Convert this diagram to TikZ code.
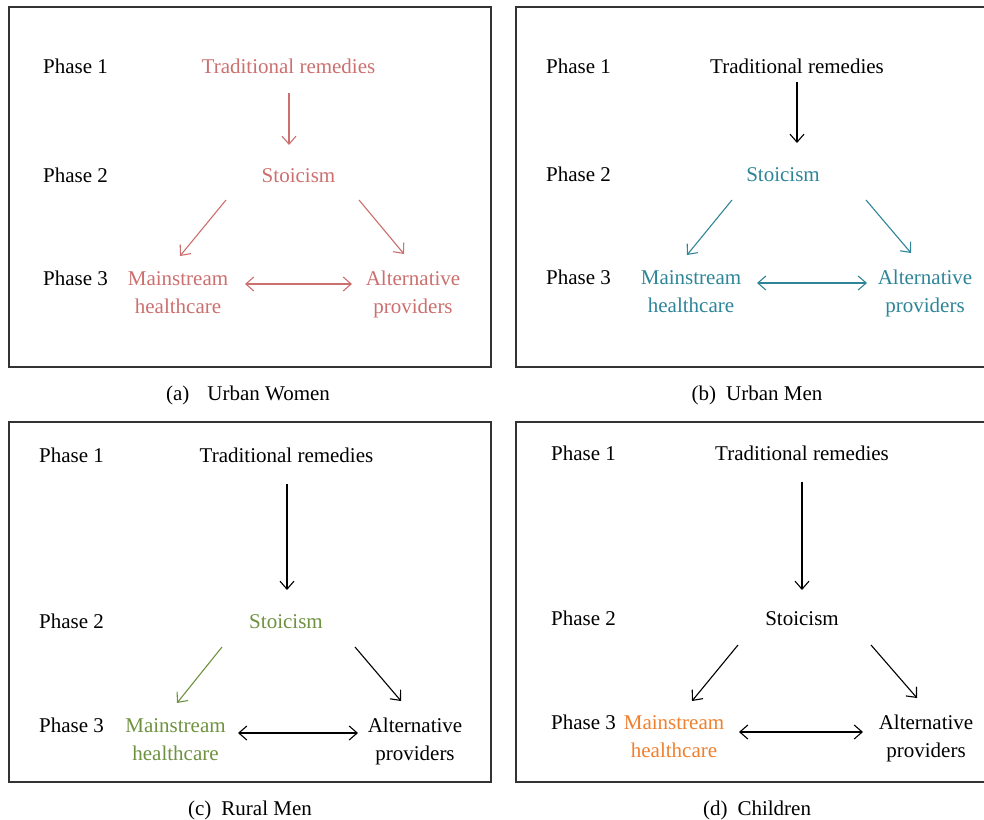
\documentclass[tikz,border=0pt]{standalone}
\usepackage{fontspec}
\setmainfont{Liberation Serif}
\usetikzlibrary{arrows.meta}
\definecolor{cRose}{HTML}{CC6F6F}
\definecolor{cTeal}{HTML}{2E8598}
\definecolor{cOlive}{HTML}{6E9240}
\definecolor{cOrange}{HTML}{F07F2E}
\definecolor{cFrame}{HTML}{333333}
\newcommand{\twoline}[2]{\begin{tabular}[t]{@{}c@{}}#1\\#2\end{tabular}}
\tikzset{
  lbl/.style={anchor=base west, inner sep=0pt},
  txt/.style={anchor=base, inner sep=0pt},
  frame/.style={draw=cFrame, line width=1.3pt},
  arr/.style={-{Straight Barb[length=8pt,width=14pt]}, line width=1.1pt},
  darr/.style={{Straight Barb[length=8pt,width=14pt]}-{Straight Barb[length=8pt,width=14pt]}, line width=1.1pt},
}
\begin{document}
\begin{tikzpicture}[x=1pt,y=-1pt,font=\fontsize{21}{28}\selectfont]
\useasboundingbox (0,0) rectangle (984,819);
% frames
\draw[frame] (9,7) rectangle (491,367);
\draw[frame] (984,7) -- (516,7) -- (516,367) -- (984,367);
\draw[frame] (9,422) rectangle (491,782);
\draw[frame] (984,422) -- (516,422) -- (516,782) -- (984,782);

% ---------- panel a ----------
\node[lbl] (pa1) at (43,73) {Phase 1};
\node[lbl] (pa2) at (43,182) {Phase 2};
\node[lbl] (pa3) at (43,285) {Phase 3};
\node[txt,text=cRose] (ta) at (288.5,73) {Traditional remedies};
\node[txt,text=cRose] (sa) at (298.5,182) {Stoicism};
\node[txt,text=cRose] (ma) at (178,285) {\twoline{Mainstream}{healthcare}};
\node[txt,text=cRose] (aa) at (413,285) {\twoline{Alternative}{providers}};
\coordinate (a1) at (289,93);  \coordinate (a2) at (289,145);
\coordinate (a3) at (226,200); \coordinate (a4) at (180,256);
\coordinate (a5) at (359,200); \coordinate (a6) at (404,254);
\coordinate (a7) at (245,284); \coordinate (a8) at (352,284);
\draw[arr,cRose] (a1) -- (a2);
\draw[arr,cRose] (a3) -- (a4);
\draw[arr,cRose] (a5) -- (a6);
\draw[darr,cRose] (a7) -- (a8);
\node[txt] (capa) at (248,400) {(a)\hspace{18pt}Urban Women};

% ---------- panel b ----------
\node[lbl] (pb1) at (546,73) {Phase 1};
\node[lbl] (pb2) at (546,181) {Phase 2};
\node[lbl] (pb3) at (546,284) {Phase 3};
\node[txt] (tb) at (797,73) {Traditional remedies};
\node[txt,text=cTeal] (sb) at (783,181) {Stoicism};
\node[txt,text=cTeal] (mb) at (691,284) {\twoline{Mainstream}{healthcare}};
\node[txt,text=cTeal] (ab) at (925,284) {\twoline{Alternative}{providers}};
\coordinate (b1) at (797,82);  \coordinate (b2) at (797,143);
\coordinate (b3) at (732,200); \coordinate (b4) at (687,255);
\coordinate (b5) at (866,200); \coordinate (b6) at (911,253);
\coordinate (b7) at (757,283); \coordinate (b8) at (867,283);
\draw[arr] (b1) -- (b2);
\draw[arr,cTeal] (b3) -- (b4);
\draw[arr,cTeal] (b5) -- (b6);
\draw[darr,cTeal] (b7) -- (b8);
\node[txt] (capb) at (757,400) {(b)\hspace{10pt}Urban Men};

% ---------- panel c ----------
\node[lbl] (pc1) at (39,462) {Phase 1};
\node[lbl] (pc2) at (39,628) {Phase 2};
\node[lbl] (pc3) at (39,732) {Phase 3};
\node[txt] (tc) at (286.5,462) {Traditional remedies};
\node[txt,text=cOlive] (sc) at (286,628) {Stoicism};
\node[txt,text=cOlive] (mc) at (175.5,732) {\twoline{Mainstream}{healthcare}};
\node[txt] (ac) at (415,732) {\twoline{Alternative}{providers}};
\coordinate (c1) at (287,484); \coordinate (c2) at (287,590);
\coordinate (c3) at (222,647); \coordinate (c4) at (177,703);
\coordinate (c5) at (355,647); \coordinate (c6) at (401,701);
\coordinate (c7) at (238,733); \coordinate (c8) at (358,733);
\draw[arr] (c1) -- (c2);
\draw[arr,cOlive] (c3) -- (c4);
\draw[arr] (c5) -- (c6);
\draw[darr] (c7) -- (c8);
\node[txt] (capc) at (250,815) {(c)\hspace{10pt}Rural Men};

% ---------- panel d ----------
\node[lbl] (pd1) at (551,460) {Phase 1};
\node[lbl] (pd2) at (551,625) {Phase 2};
\node[lbl] (pd3) at (551,729) {Phase 3};
\node[txt] (td) at (802,460) {Traditional remedies};
\node[txt] (sd) at (802,625) {Stoicism};
\node[txt,text=cOrange] (md) at (674,729) {\twoline{Mainstream}{healthcare}};
\node[txt] (ad) at (926,729) {\twoline{Alternative}{providers}};
\coordinate (d1) at (802,482); \coordinate (d2) at (802,590);
\coordinate (d3) at (738,645); \coordinate (d4) at (692,701);
\coordinate (d5) at (871,645); \coordinate (d6) at (917,698);
\coordinate (d7) at (739,732); \coordinate (d8) at (863,732);
\draw[arr] (d1) -- (d2);
\draw[arr] (d3) -- (d4);
\draw[arr] (d5) -- (d6);
\draw[darr] (d7) -- (d8);
\node[txt] (capd) at (757,815) {(d)\hspace{10pt}Children};
\end{tikzpicture}
\end{document}
